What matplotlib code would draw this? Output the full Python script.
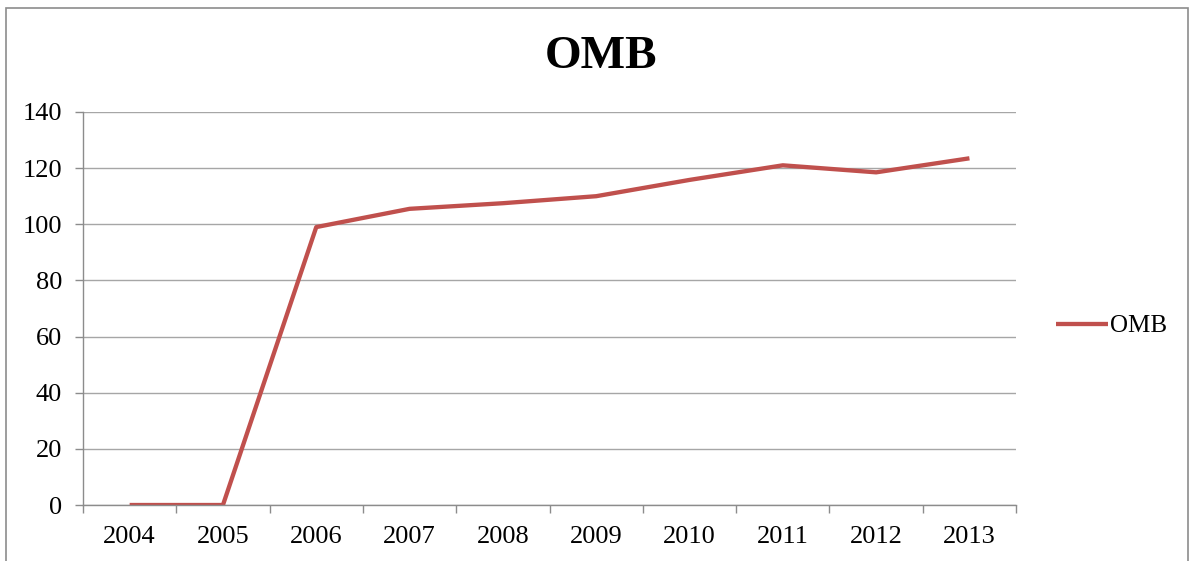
import matplotlib.pyplot as plt
from matplotlib.patches import Rectangle

# OMB values by year
years = ['2004', '2005', '2006', '2007', '2008', '2009', '2010', '2011', '2012', '2013']
omb = [0, 0, 99, 105.5, 107.5, 110, 115.8, 121, 118.5, 123.5]
y_ticks = [0, 20, 40, 60, 80, 100, 120, 140]

plt.rcParams['font.family'] = ['Liberation Serif', 'DejaVu Serif']

fig = plt.figure(figsize=(11.94, 5.61), dpi=100)
ax = fig.add_axes([0.0695, 0.0998, 0.7815, 0.7006])

# outer chart border
fig.patches.append(Rectangle((0.005, -0.05), 0.99, 1.036, transform=fig.transFigure,
                             fill=False, edgecolor='#8c8c8c', linewidth=1.2))

x = list(range(len(years)))
ax.plot(x, omb, color='#C0504D', linewidth=3.1, label='OMB', solid_capstyle='butt')

ax.set_xlim(-0.5, len(years) - 0.5)
ax.set_ylim(0, 140)
ax.set_yticks(y_ticks)
ax.set_yticklabels([str(v) for v in y_ticks], fontsize=19)
ax.set_xticks(x)
ax.set_xticklabels(years, fontsize=19)
ax.set_xticks([i + 0.5 for i in range(-1, len(years))], minor=True)
ax.tick_params(axis='x', which='major', length=0, pad=15)
ax.tick_params(axis='x', which='minor', length=6, color='#8c8c8c', width=1)
ax.tick_params(axis='y', length=6, color='#8c8c8c', width=1, pad=9)

ax.grid(axis='y', color='#a6a6a6', linewidth=1)
ax.set_axisbelow(True)
for s in ['top', 'right']:
    ax.spines[s].set_visible(False)
for s in ['left', 'bottom']:
    ax.spines[s].set_color('#8c8c8c')
    ax.spines[s].set_linewidth(1)

fig.text(0.503, 0.898, 'OMB', fontsize=34, fontweight='bold', ha='center', va='center')

ax.legend(loc='center left', bbox_to_anchor=(1.032, 0.455), frameon=False,
          fontsize=18, handlelength=2.1, handletextpad=0.05, borderaxespad=0)

fig.savefig('out.png', dpi=100)
